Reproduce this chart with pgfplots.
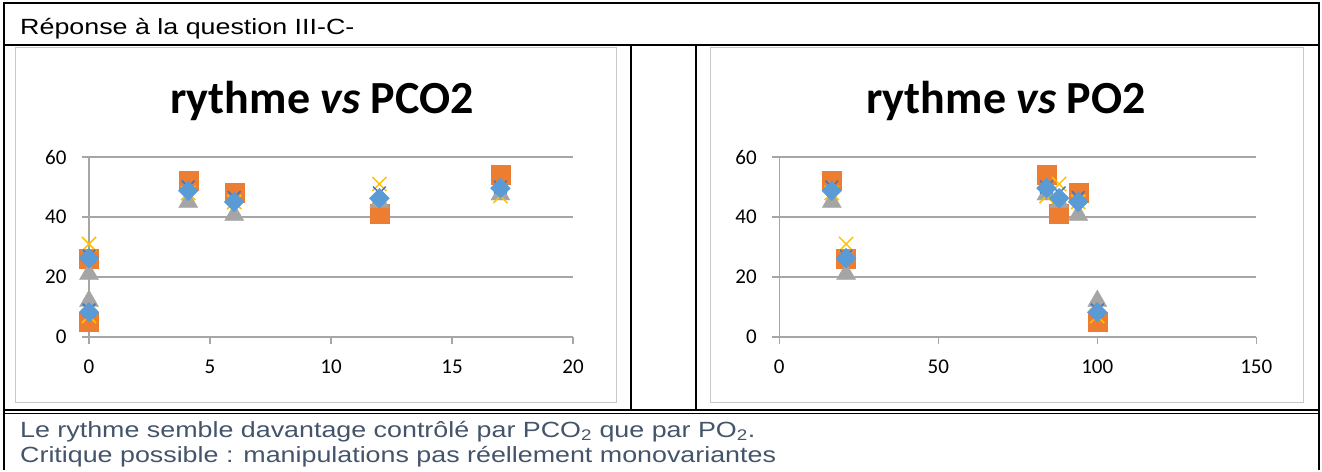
\documentclass[border=0pt]{standalone}
\usepackage{fontspec}
\setmainfont{Liberation Sans}
\newfontfamily\wordfont[FakeStretch=1.22]{Liberation Sans}
\newfontfamily\carlito{Carlito}
\usepackage{pgfplots}
\pgfplotsset{compat=1.18}
\definecolor{axgray}{RGB}{166,166,166}
\definecolor{framegray}{RGB}{200,200,200}
\definecolor{sblue}{RGB}{91,155,213}
\definecolor{sorange}{RGB}{237,125,49}
\definecolor{sgray}{RGB}{165,165,165}
\definecolor{sgold}{RGB}{255,192,0}
\definecolor{sdblue}{RGB}{68,114,196}
\definecolor{txtblue}{RGB}{68,84,106}
\pgfplotsset{
  excel/.style={
    scale only axis, height=180pt, anchor=south west,
    ymin=0, ymax=60, ytick={0,20,40,60},
    axis lines=left, axis line style={draw=axgray, line width=1.2pt, -},
    tick align=outside, major tick length=7pt,
    tick style={draw=axgray, line width=1.2pt},
    ymajorgrids, grid style={draw=axgray, line width=1.2pt},
    /pgf/number format/assume math mode=true,
    tick label style={font=\carlito\fontsize{21}{21}\selectfont, text=black},
    yticklabel style={xshift=-12pt},
    xticklabel style={yshift=-12pt},
    clip=false,
  },
  sq/.style={only marks, mark=square*, mark size=9.5pt, mark options={draw=sorange, fill=sorange}},
  tri/.style={only marks, mark=triangle*, mark size=11pt, mark options={draw=sgray, fill=sgray}},
  xg/.style={only marks, mark=x, mark size=10pt, mark options={draw=sgold, line width=1.5pt}},
  xb/.style={only marks, mark=x, mark size=9pt, mark options={draw=sdblue, line width=1.5pt}},
  dia/.style={only marks, mark=square*, mark size=7pt, mark options={draw=sblue, fill=sblue, rotate=45}},
}
\pgfplotstableread{
pco2 po2 sq tri xg xb dia
0 100 5 12 7 9 8.25
0 21 26 21 31 27 26.25
4.1 16.5 52 45 48 50 48.75
6.0 94 48 40.7 45 46.5 45.05
12 88 41 45 51 48 46.25
17 84 54 47.5 47 50 49.6
}\data
\begin{document}
\begin{tikzpicture}
\path (0pt,0pt) rectangle (1322pt,-470pt);
% table lines
\draw[line width=2pt] (3pt,-3pt) -- (1320pt,-3pt);
\draw[line width=2pt] (4pt,-3pt) -- (4pt,-470pt);
\draw[line width=2pt] (1319pt,-3pt) -- (1319pt,-470pt);
\draw[line width=2pt] (3pt,-45pt) -- (1320pt,-45pt);
\draw[line width=2pt] (631pt,-45pt) -- (631pt,-410pt);
\draw[line width=2pt] (696pt,-45pt) -- (696pt,-410pt);
\draw[line width=2pt] (3pt,-410pt) -- (1320pt,-410pt);
\draw[line width=1pt] (3pt,-413pt) -- (1320pt,-413pt);
% chart frames
\draw[framegray, line width=1pt] (15pt,-47pt) rectangle (616pt,-402pt);
\draw[framegray, line width=1pt] (710pt,-47pt) rectangle (1303pt,-402pt);
% texts
\node[anchor=base west, inner sep=0pt, font=\wordfont\fontsize{22}{22}\selectfont] at (20pt,-34pt) {Réponse à la question III-C-};
\node[anchor=base west, inner sep=0pt, font=\wordfont\fontsize{22}{22}\selectfont, text=txtblue] at (20pt,-437pt) {Le rythme semble davantage contrôlé par PCO\textsubscript{2} que par PO\textsubscript{2}.};
\node[anchor=base west, inner sep=0pt, font=\wordfont\fontsize{22}{22}\selectfont, text=txtblue] at (20pt,-462pt) {Critique possible : manipulations pas réellement monovariantes};
\node[anchor=base, inner sep=0pt, font=\carlito\bfseries\fontsize{46}{46}\selectfont] at (322pt,-113pt) {rythme \textit{vs} PCO2};
\node[anchor=base, inner sep=0pt, font=\carlito\bfseries\fontsize{46}{46}\selectfont] at (1006pt,-113pt) {rythme \textit{vs} PO2};
% left chart
\begin{axis}[excel, at={(89pt,-337pt)}, width=484pt, xmin=0, xmax=20, xtick={0,5,10,15,20}]
\addplot[sq] table[x=pco2,y=sq] {\data};
\addplot[tri] table[x=pco2,y=tri] {\data};
\addplot[xg] table[x=pco2,y=xg] {\data};
\addplot[xb] table[x=pco2,y=xb] {\data};
\addplot[dia] table[x=pco2,y=dia] {\data};
\end{axis}
% right chart
\begin{axis}[excel, at={(779.3pt,-337pt)}, width=477pt, xmin=0, xmax=150, xtick={0,50,100,150}]
\addplot[sq] table[x=po2,y=sq] {\data};
\addplot[tri] table[x=po2,y=tri] {\data};
\addplot[xg] table[x=po2,y=xg] {\data};
\addplot[xb] table[x=po2,y=xb] {\data};
\addplot[dia] table[x=po2,y=dia] {\data};
\end{axis}
\end{tikzpicture}
\end{document}
